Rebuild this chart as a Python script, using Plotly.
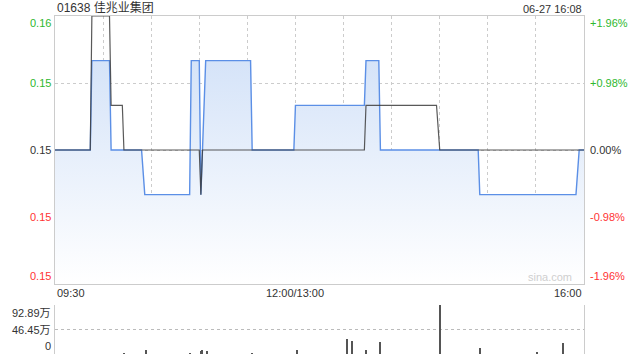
import plotly.graph_objects as go

# ---------------- data ----------------
title_text = "01638 佳兆业集团"
stamp_text = "06-27 16:08"
prev_close = 0.153

# filled (blue) line: breakpoints (clock time, price)
blue_times = ["09:30", "09:52", "09:53", "10:04", "10:05", "10:24", "10:26", "10:54", "10:55",
              "11:00", "11:01", "11:04", "11:32", "11:33", "11:59", "13:00", "13:43", "13:44",
              "13:52", "13:53", "14:54", "14:55", "15:55", "15:57", "16:00"]
blue_vals = [0.153, 0.153, 0.155, 0.155, 0.153, 0.153, 0.152, 0.152, 0.155,
             0.155, 0.152, 0.155, 0.155, 0.153, 0.153, 0.154, 0.154, 0.155,
             0.155, 0.153, 0.153, 0.152, 0.152, 0.153, 0.153]

# dark line: breakpoints (clock time, price)
black_times = ["09:30", "09:52", "09:53", "10:04", "10:05", "10:12", "10:13", "11:00", "11:01",
               "11:02", "13:43", "13:44", "14:28", "14:30", "16:00"]
black_vals = [0.153, 0.153, 0.156, 0.156, 0.154, 0.154, 0.153, 0.153, 0.152,
              0.153, 0.153, 0.154, 0.154, 0.153, 0.153]

# volume (万股)
vol_times = ["10:13", "10:27", "10:54", "11:01", "11:02", "11:05", "11:33", "13:01", "13:32",
             "13:35", "13:44", "13:53", "14:30", "14:55", "15:31", "15:47"]
vol_vals = [1.5, 7, 1.2, 6, 8, 5, 1.5, 8, 28, 25, 8, 23, 92.89, 11, 3, 20]

price_ticks = [0.156, 0.1545, 0.153, 0.1515, 0.150]
price_labels = ["0.16", "0.15", "0.15", "0.15", "0.15"]
pct_labels = ["+1.96%", "+0.98%", "0.00%", "-0.98%", "-1.96%"]
vol_ticks = [92.89, 46.45, 0]
vol_labels = ["92.89万", "46.45万", "0"]
x_tick_times = ["09:30", "12:00", "16:00"]
x_tick_labels = ["09:30", "12:00/13:00", "16:00"]
grid_step_min = 30
session_len = 330


def to_idx(t):
    h, m = map(int, t.split(":"))
    mins = h * 60 + m
    if mins <= 12 * 60:
        return mins - (9 * 60 + 30)
    return 150 + mins - 13 * 60


bx = [to_idx(t) for t in blue_times]
kx = [to_idx(t) for t in black_times]
vx = [to_idx(t) for t in vol_times]

GREEN = "#2eb82e"
RED = "#ff3333"
DARK = "#333333"
GRID = "#cccccc"
BORDER = "#cccccc"
FONT = "Liberation Sans, Arial, Noto Sans CJK SC, sans-serif"

fig = go.Figure()
fig.add_trace(go.Scatter(
    x=bx, y=blue_vals, mode="lines", xaxis="x", yaxis="y",
    line=dict(color="#5b8fe6", width=1.4),
    fill="tozeroy",
    fillgradient=dict(type="vertical",
                      colorscale=[[0, "rgba(255,255,255,1)"], [1, "rgba(205,222,247,1)"]],
                      start=0.150, stop=0.156),
    hoverinfo="skip", showlegend=False))
fig.add_trace(go.Scatter(
    x=kx, y=black_vals, mode="lines", xaxis="x", yaxis="y",
    line=dict(color="rgba(60,60,60,0.85)", width=1.2),
    hoverinfo="skip", showlegend=False))
fig.add_trace(go.Bar(
    x=vx, y=vol_vals, xaxis="x2", yaxis="y2", width=0.7,
    marker=dict(color="#555555", line=dict(width=0)),
    hoverinfo="skip", showlegend=False))

main_bottom = (354 - 284) / 338
vol_top = (354 - 305) / 338

fig.update_layout(
    width=640, height=360,
    margin=dict(l=55, r=56, t=16, b=6),
    paper_bgcolor="white", plot_bgcolor="white",
    font=dict(family=FONT, size=11, color=DARK),
    bargap=0,
    xaxis=dict(domain=[0, 1], range=[0, session_len], anchor="y",
               tickvals=list(range(0, session_len + 1, grid_step_min)),
               showticklabels=False, ticks="", showgrid=True, gridcolor=GRID,
               griddash="dot", gridwidth=1, showline=True, mirror=True,
               linecolor=BORDER, linewidth=1, zeroline=False, fixedrange=True),
    yaxis=dict(domain=[main_bottom, 1], range=[0.150, 0.156], anchor="x",
               tickvals=price_ticks, showticklabels=False, ticks="",
               showgrid=True, gridcolor=GRID, griddash="dot", gridwidth=1,
               showline=True, mirror=True, linecolor=BORDER, linewidth=1,
               zeroline=False, fixedrange=True),
    xaxis2=dict(domain=[0, 1], range=[0, session_len], anchor="y2",
                showticklabels=False, ticks="", showgrid=False, showline=False,
                zeroline=False, fixedrange=True),
    yaxis2=dict(domain=[0, vol_top], range=[0, vol_ticks[0]], anchor="x2",
                tickvals=vol_ticks, showticklabels=False, ticks="",
                showgrid=True, gridcolor="#bbbbbb", griddash="dot", gridwidth=1,
                showline=True, mirror=True, linecolor=BORDER, linewidth=1,
                zeroline=False, fixedrange=True),
)

ann = []
# title and time stamp
ann.append(dict(text=title_text, xref="paper", yref="paper", x=0, y=1,
                xanchor="left", yanchor="bottom", showarrow=False,
                font=dict(size=12, color=DARK), yshift=-1))
ann.append(dict(text=stamp_text, xref="paper", yref="paper", x=1, y=1,
                xanchor="right", yanchor="bottom", showarrow=False,
                font=dict(size=11, color=DARK), yshift=-1))

n = len(price_ticks)
for i, (v, lab, pl) in enumerate(zip(price_ticks, price_labels, pct_labels)):
    if v > prev_close:
        col = GREEN
    elif v < prev_close:
        col = RED
    else:
        col = DARK
    if i == 0:
        ya, ys = "top", 1
    elif i == n - 1:
        ya, ys = "bottom", 0
    else:
        ya, ys = "middle", 0
    ann.append(dict(text=lab, xref="paper", yref="y", x=0, y=v, xanchor="right",
                    yanchor=ya, yshift=ys, xshift=-2, showarrow=False,
                    font=dict(size=11, color=col)))
    ann.append(dict(text=pl, xref="paper", yref="y", x=1, y=v, xanchor="left",
                    yanchor=ya, yshift=ys, xshift=4, showarrow=False,
                    font=dict(size=11, color=col)))

for i, (v, lab) in enumerate(zip(vol_ticks, vol_labels)):
    if i == 0:
        ya = "top"
    elif i == len(vol_ticks) - 1:
        ya = "bottom"
    else:
        ya = "middle"
    ann.append(dict(text=lab, xref="paper", yref="y2", x=0, y=v, xanchor="right",
                    yanchor=ya, xshift=-2, showarrow=False,
                    font=dict(size=11, color=DARK)))

for i, (t, lab) in enumerate(zip(x_tick_times, x_tick_labels)):
    if i == 0:
        xa = "left"
    elif i == len(x_tick_times) - 1:
        xa = "right"
    else:
        xa = "center"
    ann.append(dict(text=lab, xref="x", yref="paper", x=to_idx(t), y=main_bottom,
                    xanchor=xa, yanchor="top", yshift=-1, showarrow=False,
                    font=dict(size=11, color=DARK)))

ann.append(dict(text="sina.com", xref="paper", yref="paper", x=1, y=main_bottom,
                xanchor="right", yanchor="bottom", xshift=-10, yshift=-1,
                showarrow=False, font=dict(size=11, color="#cfcfcf")))

fig.update_layout(annotations=ann)
fig.write_html("out.html", config={"displayModeBar": False})
